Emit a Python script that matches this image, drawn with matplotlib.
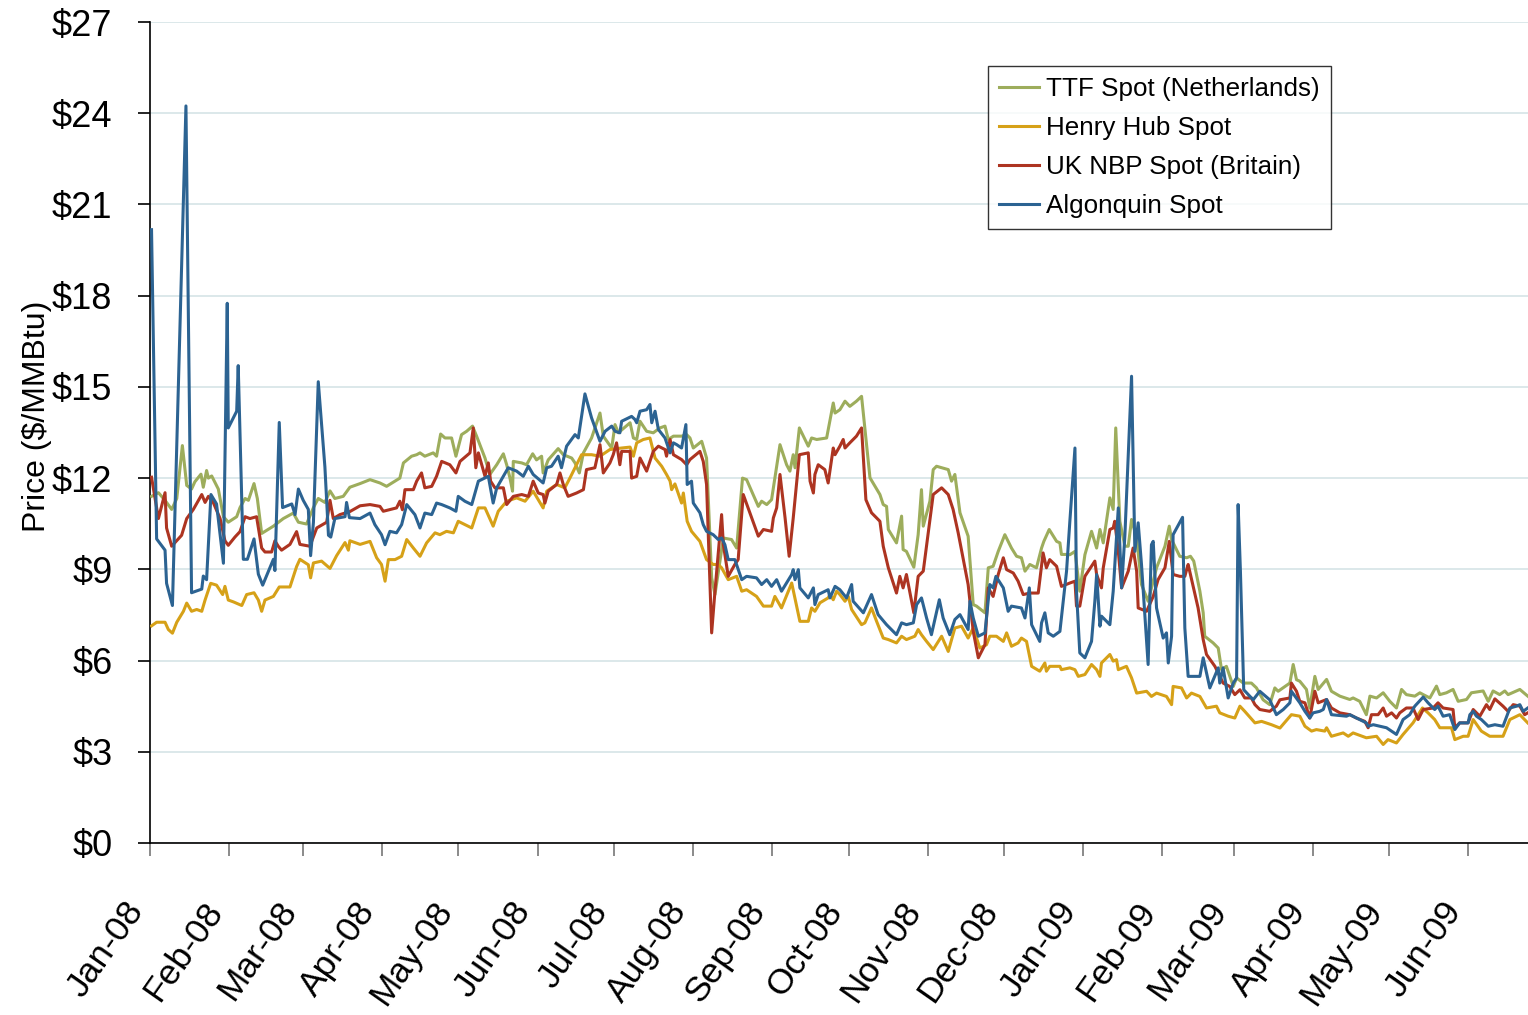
import numpy as np
import pandas as pd
import matplotlib
matplotlib.use('Agg')
import matplotlib.pyplot as plt
from matplotlib.ticker import FuncFormatter

plt.rcParams['font.family'] = ['Liberation Sans', 'DejaVu Sans']

# days counted from 1 Jan 2008, prices in $/MMBtu
ttf_days = [0.6, 3.3, 5.9, 8.5, 10.5, 12.7, 14.4, 16.3, 17.6, 20.0, 20.9, 22.2, 22.9, 24.2, 26.8, 28.8, 30.7, 34.0,
            35.3, 37.3, 38.6, 40.8, 42.1, 43.8, 48.4, 52.3, 56.2, 58.2, 61.4, 64.1, 66.0, 68.6, 70.6, 72.5, 75.8,
            78.4, 82.4, 86.3, 90.2, 92.8, 98.0, 99.4, 102.6, 104.6, 105.9, 107.8, 111.1, 112.4, 114.0, 115.7, 118.3,
            120.0, 122.2, 124.2, 126.5, 128.1, 131.4, 133.3, 136.0, 138.6, 139.9, 141.2, 142.2, 142.5, 145.8, 147.7,
            150.1, 151.6, 153.6, 154.2, 156.2, 160.1, 162.1, 165.4, 166.7, 168.4, 170.0, 173.2, 176.5, 177.8, 181.1,
            182.4, 183.7, 188.3, 189.6, 190.9, 192.2, 194.8, 197.4, 200.0, 202.0, 203.3, 205.3, 208.5, 210.5, 211.8,
            213.1, 215.7, 216.4, 218.3, 220.3, 221.6, 224.9, 228.1, 230.1, 232.4, 234.0, 238.6, 239.9, 241.9, 243.8,
            247.1, 249.7, 251.0, 252.3, 253.0, 254.7, 258.2, 259.5, 261.5, 265.4, 268.0, 268.7, 270.6, 272.6, 274.5,
            277.1, 279.1, 282.4, 286.3, 287.6, 288.9, 289.6, 292.8, 294.8, 295.4, 296.7, 299.6, 301.3, 302.6, 303.3,
            305.9, 307.2, 308.5, 313.1, 314.4, 315.7, 317.7, 320.9, 322.9, 324.2, 327.5, 328.8, 330.7, 332.7, 335.3,
            337.9, 339.9, 341.8, 343.2, 345.1, 347.7, 349.7, 350.6, 352.7, 355.6, 356.9, 357.5, 359.5, 360.8, 362.8,
            364.7, 366.7, 369.3, 371.3, 372.6, 373.9, 376.5, 377.8, 378.8, 380.4, 382.4, 383.7, 385.0, 387.0, 388.9,
            391.5, 394.8, 398.1, 399.8, 400.7, 403.9, 406.6, 408.1, 409.4, 411.8, 413.1, 413.7, 417.0, 419.0, 420.3,
            422.2, 424.9, 426.2, 428.8, 432.0, 434.0, 436.6, 439.2, 441.2, 442.5, 447.1, 448.4, 449.7, 451.0, 453.6,
            454.9, 456.9, 458.2, 461.5, 463.4, 466.7, 470.6, 471.9, 474.5, 477.1, 478.5, 481.1, 483.7, 486.3, 488.9,
            490.9, 492.8, 496.1, 498.1, 499.4, 502.0, 504.6, 505.9, 508.5, 511.1, 513.1, 516.4, 518.3, 522.9, 524.9,
            526.8, 529.4, 531.4, 532.7, 537.3, 540.4]
ttf_price = [11.4, 11.52, 11.27, 10.97, 11.33, 13.07, 11.76, 11.64, 11.88, 12.13, 11.7, 12.25, 12.0, 12.07, 11.64,
             10.73, 10.55, 10.73, 11.03, 11.33, 11.27, 11.82, 11.33, 10.18, 10.42, 10.67, 10.85, 10.55, 10.49, 11.03,
             11.33, 11.2, 11.58, 11.33, 11.4, 11.7, 11.82, 11.95, 11.84, 11.73, 12.0, 12.5, 12.72, 12.77, 12.83, 12.72,
             12.83, 12.72, 13.45, 13.32, 13.32, 12.72, 13.43, 13.54, 13.71, 13.38, 12.66, 12.12, 12.44, 12.8, 12.44,
             12.0, 11.57, 12.55, 12.5, 12.44, 12.8, 12.6, 12.72, 12.17, 12.6, 12.97, 12.77, 12.66, 12.5, 12.17, 12.83,
             13.32, 14.14, 13.38, 12.99, 13.76, 13.49, 13.82, 13.32, 13.27, 13.87, 13.54, 13.49, 13.65, 13.71, 13.27,
             13.38, 13.38, 13.43, 13.32, 12.99, 13.16, 13.21, 12.66, 8.72, 8.17, 10.03, 9.98, 9.7, 12.0, 11.95, 11.07,
             11.24, 11.13, 11.29, 13.1, 12.44, 12.23, 12.77, 12.34, 13.65, 13.05, 13.32, 13.27, 13.32, 14.47, 14.14,
             14.25, 14.53, 14.36, 14.53, 14.69, 12.01, 11.46, 11.13, 11.07, 10.31, 9.87, 10.75, 9.65, 9.59, 9.07,
             10.14, 11.62, 10.42, 11.24, 12.28, 12.39, 12.28, 11.9, 12.12, 10.86, 10.09, 7.84, 7.79, 7.57, 9.05, 9.1,
             9.59, 10.14, 9.7, 9.43, 9.38, 8.94, 9.16, 9.05, 9.7, 9.92, 10.31, 9.92, 9.87, 9.49, 9.49, 9.48, 9.59,
             8.28, 9.48, 10.25, 9.7, 10.31, 9.87, 11.35, 10.97, 13.65, 10.58, 9.76, 9.76, 10.64, 10.03, 8.5, 7.95,
             9.05, 9.76, 10.42, 9.98, 9.43, 9.38, 9.43, 9.27, 8.28, 7.57, 6.8, 6.58, 6.41, 5.7, 5.81, 5.15, 5.43, 5.26,
             5.26, 5.1, 4.71, 4.55, 5.1, 4.99, 5.26, 5.87, 5.37, 5.32, 5.05, 4.44, 5.48, 5.05, 5.38, 4.99, 4.83, 4.72,
             4.77, 4.66, 4.22, 4.83, 4.77, 4.94, 4.66, 4.44, 5.05, 4.88, 4.83, 4.94, 4.88, 4.77, 5.16, 4.88, 4.94,
             5.05, 4.66, 4.72, 4.94, 5.0, 4.66, 5.0, 4.88, 5.0, 4.88, 5.05, 4.83]

hh_days = [0.6, 2.6, 5.9, 7.2, 8.8, 10.5, 13.1, 14.4, 16.3, 18.3, 20.3, 21.6, 23.8, 26.1, 28.5, 29.4, 30.7, 32.7, 36.0,
           37.9, 40.8, 42.5, 43.8, 45.1, 48.4, 50.7, 54.9, 57.5, 58.8, 62.1, 63.0, 64.1, 67.3, 70.6, 73.2, 76.5, 77.8,
           78.4, 82.4, 86.3, 88.9, 90.8, 92.2, 93.5, 96.1, 98.7, 100.7, 103.3, 105.9, 108.5, 111.8, 113.7, 116.3,
           119.0, 120.9, 126.2, 128.8, 131.4, 134.6, 136.6, 139.9, 143.8, 147.1, 150.3, 154.2, 155.6, 159.5, 162.7,
           164.7, 167.3, 169.3, 173.2, 176.5, 180.4, 185.0, 188.3, 189.6, 190.9, 193.5, 196.1, 198.1, 200.7, 202.6,
           204.0, 204.6, 205.9, 208.5, 209.2, 210.7, 212.4, 215.7, 218.3, 220.9, 222.9, 224.2, 226.8, 230.1, 232.1,
           234.0, 237.9, 240.6, 243.8, 245.1, 247.7, 251.7, 254.9, 258.2, 259.5, 260.8, 262.8, 266.0, 266.7, 268.0,
           269.3, 270.6, 272.6, 273.9, 275.2, 279.1, 280.4, 283.0, 285.0, 287.6, 289.6, 292.8, 294.8, 296.7, 300.0,
           301.3, 302.6, 304.6, 307.2, 310.5, 313.1, 315.7, 318.3, 320.9, 322.9, 325.5, 328.1, 329.4, 332.0, 334.7,
           336.0, 337.9, 340.5, 341.8, 343.8, 345.8, 349.0, 351.0, 351.6, 352.9, 356.9, 357.5, 360.8, 362.8, 364.1,
           366.7, 369.3, 371.3, 372.6, 373.2, 376.5, 377.8, 379.1, 379.8, 383.0, 385.0, 387.0, 390.9, 392.8, 394.8,
           398.7, 400.7, 401.3, 404.6, 406.6, 408.5, 411.8, 414.4, 418.3, 419.6, 422.9, 425.5, 427.5, 429.4, 433.4,
           436.0, 439.9, 443.2, 447.7, 451.0, 453.0, 455.6, 457.5, 460.8, 461.5, 463.4, 468.0, 470.0, 471.9, 477.1,
           481.1, 483.7, 485.6, 488.9, 491.5, 495.4, 499.1, 501.3, 503.9, 505.9, 510.5, 511.8, 515.1, 517.0, 519.0,
           522.2, 525.5, 530.7, 533.4, 537.3, 540.4]
hh_price = [7.14, 7.26, 7.26, 7.02, 6.9, 7.26, 7.62, 7.89, 7.62, 7.68, 7.62, 7.99, 8.54, 8.48, 8.17, 8.44, 7.99, 7.93,
            7.81, 8.17, 8.23, 7.99, 7.62, 7.99, 8.11, 8.42, 8.42, 9.09, 9.33, 9.15, 8.72, 9.21, 9.27, 9.03, 9.45, 9.88,
            9.63, 9.94, 9.82, 9.92, 9.38, 9.16, 8.61, 9.32, 9.32, 9.43, 9.98, 9.7, 9.43, 9.87, 10.2, 10.14, 10.25,
            10.2, 10.58, 10.36, 11.02, 11.02, 10.42, 10.91, 11.24, 11.35, 11.24, 11.57, 11.02, 11.57, 11.79, 11.68,
            12.0, 12.44, 12.77, 12.77, 12.72, 12.94, 12.99, 13.02, 12.72, 13.16, 13.27, 13.32, 12.66, 12.39, 12.12,
            11.9, 11.62, 11.81, 11.18, 11.51, 10.58, 10.25, 9.92, 9.32, 9.16, 9.16, 9.05, 8.66, 8.77, 8.28, 8.33, 8.11,
            7.79, 7.79, 8.11, 7.73, 8.55, 7.29, 7.29, 7.73, 7.62, 7.9, 8.06, 8.17, 8.0, 8.28, 8.17, 7.95, 8.11, 7.68,
            7.18, 7.24, 7.73, 7.29, 6.74, 6.69, 6.58, 6.8, 6.69, 6.8, 7.02, 6.85, 6.63, 6.36, 6.8, 6.3, 7.07, 7.13,
            6.74, 7.07, 6.41, 6.52, 6.8, 6.8, 6.63, 6.91, 6.47, 6.58, 6.74, 6.63, 5.81, 5.65, 5.92, 5.65, 5.81, 5.81,
            5.7, 5.76, 5.7, 5.48, 5.54, 5.87, 5.7, 5.48, 5.92, 6.2, 5.98, 6.03, 5.7, 5.81, 5.43, 4.93, 4.99, 4.82,
            4.93, 4.82, 4.55, 5.15, 5.1, 4.77, 4.93, 4.82, 4.44, 4.5, 4.28, 4.17, 4.11, 4.5, 4.33, 3.95, 4.0, 3.89,
            3.78, 4.22, 4.17, 3.84, 3.68, 3.73, 3.68, 3.79, 3.51, 3.62, 3.51, 3.62, 3.46, 3.51, 3.24, 3.4, 3.29, 3.57,
            3.95, 4.44, 4.28, 4.06, 3.79, 3.79, 3.4, 3.51, 3.51, 4.06, 3.68, 3.51, 3.51, 4.06, 4.22, 3.95]

nbp_days = [0.6, 3.3, 5.9, 6.5, 8.5, 9.8, 12.4, 14.4, 17.0, 20.3, 21.6, 22.9, 24.8, 27.5, 29.4, 30.7, 33.3, 35.3, 37.3,
            39.2, 41.8, 43.8, 45.1, 47.7, 49.0, 50.3, 51.6, 54.9, 57.5, 58.8, 62.7, 65.4, 69.3, 70.6, 71.9, 74.5, 78.4,
            82.4, 86.3, 90.2, 91.5, 96.7, 98.0, 99.0, 100.0, 103.3, 104.6, 106.5, 107.8, 110.5, 112.4, 114.4, 117.6,
            120.0, 121.6, 125.5, 126.8, 127.8, 128.8, 131.4, 132.7, 133.6, 135.3, 138.6, 139.9, 142.5, 145.8, 148.4,
            150.3, 152.3, 154.2, 154.9, 156.2, 159.5, 160.8, 162.1, 164.0, 167.3, 170.0, 171.2, 174.5, 176.5, 177.8,
            180.4, 181.7, 183.0, 184.3, 185.0, 188.3, 188.9, 190.9, 192.2, 194.8, 197.4, 199.4, 202.0, 202.6, 204.0,
            205.3, 208.5, 210.5, 211.8, 215.7, 217.0, 218.3, 220.3, 221.6, 224.2, 224.9, 226.8, 229.4, 230.7, 232.7,
            236.0, 238.6, 240.6, 243.8, 244.5, 245.8, 247.1, 249.1, 250.7, 252.3, 254.7, 258.2, 258.9, 260.2, 260.8,
            262.1, 264.7, 266.0, 268.0, 268.7, 270.6, 271.9, 272.6, 274.5, 277.1, 279.1, 280.8, 283.0, 286.3, 287.6,
            289.6, 292.8, 294.1, 295.4, 296.7, 299.6, 301.3, 303.3, 307.2, 310.5, 313.1, 315.0, 317.0, 320.9, 322.9,
            324.9, 327.5, 328.8, 330.7, 332.7, 334.7, 336.0, 338.6, 340.5, 342.5, 345.1, 348.4, 350.3, 351.6, 352.9,
            355.6, 357.5, 360.8, 362.8, 363.4, 364.7, 366.7, 370.6, 371.3, 373.2, 373.9, 376.5, 377.8, 378.4, 379.8,
            381.1, 383.7, 385.6, 387.0, 387.6, 390.9, 393.5, 395.4, 398.1, 399.8, 401.3, 403.9, 405.9, 406.6, 407.2,
            411.1, 413.1, 414.4, 417.7, 420.9, 423.5, 425.5, 427.5, 429.4, 432.0, 433.4, 435.3, 439.2, 441.8, 443.2,
            447.1, 447.7, 449.7, 451.0, 453.0, 454.9, 456.9, 458.2, 461.5, 463.4, 466.7, 470.6, 473.2, 476.5, 477.8,
            479.1, 481.7, 483.7, 485.0, 487.0, 488.9, 490.2, 492.8, 495.4, 497.4, 499.4, 503.3, 505.2, 507.2, 511.1,
            511.8, 513.7, 517.0, 519.0, 521.6, 524.2, 525.5, 527.5, 530.7, 532.7, 534.7, 537.3, 539.2, 540.4]
nbp_price = [12.03, 10.67, 11.52, 10.36, 9.76, 9.88, 10.12, 10.67, 10.97, 11.46, 11.2, 11.4, 11.2, 10.67, 9.94, 9.79,
             10.06, 10.24, 10.73, 10.67, 10.73, 9.7, 9.57, 9.57, 9.94, 9.76, 9.63, 9.82, 10.24, 9.82, 9.76, 10.36,
             10.55, 11.27, 10.67, 10.8, 10.9, 11.09, 11.13, 11.07, 10.91, 11.02, 11.24, 10.96, 11.62, 11.62, 11.9,
             12.17, 11.68, 11.73, 12.06, 12.55, 12.44, 12.17, 12.55, 12.83, 13.65, 12.34, 12.83, 12.06, 12.5, 11.9,
             11.68, 11.68, 11.13, 11.4, 11.46, 11.4, 11.9, 11.51, 11.46, 11.18, 11.57, 11.79, 12.17, 11.79, 11.4,
             11.51, 11.62, 12.28, 12.34, 13.1, 12.17, 12.5, 12.77, 13.16, 12.44, 12.88, 12.88, 12.0, 12.06, 12.66,
             12.23, 12.88, 13.05, 12.94, 12.72, 13.27, 12.77, 12.61, 12.44, 12.61, 12.88, 12.55, 11.79, 6.91, 8.28,
             10.8, 9.81, 8.77, 9.16, 9.32, 11.46, 10.69, 10.09, 10.31, 10.25, 10.69, 11.02, 12.12, 10.69, 9.43, 10.69,
             12.77, 12.83, 11.9, 11.51, 12.12, 12.44, 12.28, 11.84, 12.99, 12.77, 13.05, 13.27, 12.99, 13.16, 13.38,
             13.65, 11.29, 10.86, 10.58, 9.76, 9.05, 8.22, 8.77, 8.39, 8.83, 7.57, 8.77, 8.94, 11.46, 11.68, 11.46,
             10.97, 10.2, 8.5, 6.96, 6.09, 6.52, 8.39, 8.11, 8.83, 9.38, 8.99, 8.88, 8.61, 8.17, 8.22, 8.22, 9.54,
             9.05, 9.32, 9.1, 8.44, 8.55, 8.61, 7.79, 7.79, 8.77, 9.27, 8.83, 8.39, 9.05, 10.31, 10.36, 10.58, 9.59,
             8.39, 8.94, 9.7, 8.94, 7.73, 7.62, 8.11, 8.66, 9.05, 9.92, 8.83, 8.77, 8.77, 8.99, 9.16, 7.73, 6.69, 6.2,
             5.81, 5.26, 5.15, 4.88, 5.04, 4.77, 4.77, 4.55, 4.39, 4.33, 4.5, 4.71, 4.77, 5.26, 4.99, 4.66, 4.61, 4.11,
             4.99, 4.61, 4.72, 4.44, 4.28, 4.22, 4.11, 4.0, 3.79, 4.22, 4.22, 4.44, 4.17, 4.28, 4.11, 4.28, 4.44, 4.44,
             4.06, 4.39, 4.44, 4.61, 4.44, 4.39, 3.79, 3.95, 3.95, 4.39, 4.17, 4.55, 4.39, 4.74, 4.5, 4.33, 4.55, 4.5,
             4.22, 4.28]

alg_days = [0.6, 2.6, 5.9, 6.5, 8.8, 14.1, 16.3, 20.3, 20.9, 22.2, 23.9, 26.1, 28.8, 30.3, 30.7, 34.0, 34.6, 36.6, 38.2,
            40.8, 42.5, 44.2, 48.4, 49.0, 50.7, 52.0, 55.6, 56.9, 58.2, 60.1, 62.1, 63.0, 64.1, 66.0, 68.6, 70.0, 70.9,
            72.5, 76.5, 77.1, 78.2, 82.4, 86.3, 88.2, 90.8, 92.2, 94.1, 96.7, 98.7, 100.7, 103.9, 105.9, 107.8, 110.5,
            112.4, 114.4, 117.6, 120.0, 120.9, 123.5, 126.2, 128.8, 132.7, 134.6, 136.0, 138.6, 140.5, 143.8, 146.4,
            148.4, 150.3, 154.2, 155.6, 157.5, 160.1, 161.4, 163.4, 166.7, 168.0, 170.6, 173.2, 176.5, 178.5, 181.1,
            182.4, 184.3, 185.0, 188.9, 190.2, 190.9, 192.2, 194.8, 196.1, 196.8, 198.1, 199.4, 202.0, 204.0, 205.3,
            206.6, 208.5, 210.2, 210.7, 212.4, 213.1, 215.7, 217.0, 218.3, 220.9, 222.9, 224.2, 225.5, 226.8, 229.4,
            232.1, 234.0, 237.9, 239.9, 241.9, 243.8, 245.8, 247.7, 251.7, 252.3, 253.0, 254.3, 254.9, 258.2, 260.2,
            260.8, 262.1, 266.0, 266.7, 268.7, 270.6, 273.2, 275.2, 275.8, 279.8, 283.0, 285.6, 288.9, 290.2, 292.8,
            294.8, 296.7, 299.4, 300.7, 302.6, 304.6, 306.5, 309.6, 311.1, 313.7, 315.7, 317.7, 320.9, 321.6, 322.9,
            324.9, 327.5, 329.4, 330.7, 331.8, 334.7, 336.6, 337.9, 341.8, 343.2, 344.9, 345.8, 349.0, 349.7, 351.0,
            352.3, 354.3, 356.9, 359.5, 360.8, 362.8, 363.4, 364.7, 366.7, 369.3, 370.6, 371.3, 372.6, 373.2, 376.5,
            377.8, 379.8, 381.1, 382.4, 385.0, 386.3, 387.6, 388.9, 391.5, 392.8, 393.5, 394.8, 397.4, 398.7, 399.4,
            400.7, 401.3, 405.0, 405.9, 407.2, 411.8, 413.1, 415.7, 419.0, 419.6, 420.9, 422.9, 424.9, 426.2, 426.8,
            427.7, 429.0, 432.7, 435.3, 439.2, 441.8, 444.5, 447.1, 447.7, 451.0, 453.0, 454.9, 456.2, 458.8, 460.2,
            461.5, 463.4, 469.3, 470.6, 474.5, 477.1, 477.8, 479.8, 482.4, 485.0, 488.9, 491.5, 494.1, 496.1, 499.4,
            501.3, 503.9, 505.2, 507.2, 509.8, 511.8, 513.7, 517.0, 517.7, 519.0, 520.3, 522.2, 524.9, 527.5, 530.7,
            533.4, 536.0, 537.3, 538.6, 540.4]
alg_price = [20.17, 10.0, 9.63, 8.54, 7.81, 24.24, 8.23, 8.35, 8.78, 8.66, 11.46, 11.15, 9.2, 17.75, 13.65, 14.2, 15.7,
             9.33, 9.33, 10.0, 8.84, 8.48, 9.33, 8.96, 13.83, 11.03, 11.15, 10.8, 11.64, 11.27, 10.97, 9.45, 10.55,
             15.17, 12.37, 10.12, 10.06, 10.67, 10.73, 11.2, 10.7, 10.67, 10.85, 10.47, 10.14, 9.81, 10.25, 10.2,
             10.47, 11.13, 10.8, 10.36, 10.85, 10.8, 11.18, 11.13, 11.02, 10.91, 11.4, 11.24, 11.13, 11.9, 12.06,
             11.18, 11.68, 12.06, 12.34, 12.23, 12.06, 12.39, 12.12, 11.84, 12.34, 12.39, 12.72, 12.34, 13.05, 13.43,
             13.32, 14.77, 13.98, 13.21, 13.54, 13.71, 13.54, 13.49, 13.87, 14.03, 13.93, 13.82, 14.2, 14.25, 14.42,
             13.82, 14.2, 13.6, 13.32, 12.83, 13.16, 13.1, 12.99, 13.76, 11.79, 11.9, 11.18, 10.86, 10.47, 10.25,
             10.14, 9.98, 10.03, 9.81, 9.32, 9.32, 8.66, 8.77, 8.72, 8.5, 8.66, 8.44, 8.66, 8.28, 8.83, 8.99, 8.66,
             8.99, 8.39, 8.06, 8.39, 7.84, 8.17, 8.33, 8.06, 8.44, 8.33, 8.06, 8.5, 7.95, 7.57, 8.17, 7.51, 7.18, 7.07,
             6.85, 7.24, 7.18, 7.24, 7.84, 8.06, 7.4, 6.85, 8.0, 7.4, 6.85, 7.35, 7.51, 7.02, 7.95, 7.4, 6.8, 6.91,
             8.5, 8.39, 8.77, 8.39, 7.62, 7.79, 7.73, 7.4, 8.39, 7.18, 6.63, 7.24, 7.57, 6.91, 6.8, 6.96, 8.94, 10.58,
             12.99, 8.28, 6.25, 6.09, 6.63, 7.95, 8.83, 7.13, 7.46, 7.18, 8.28, 11.02, 8.39, 10.14, 15.35, 9.59, 10.53,
             9.16, 5.87, 9.81, 9.92, 7.73, 6.74, 6.91, 5.92, 6.8, 10.14, 10.71, 7.07, 5.48, 5.48, 6.09, 5.1, 5.76, 5.26,
             5.76, 4.77, 5.26, 5.43, 11.13, 8.94, 5.04, 4.71, 4.99, 4.71, 4.22, 4.39, 4.61, 4.99, 4.61, 4.33, 4.11,
             4.28, 4.33, 4.39, 4.72, 4.22, 4.17, 4.22, 4.06, 3.95, 3.84, 3.89, 3.84, 3.79, 3.57, 4.06, 4.22, 4.5, 4.8,
             4.61, 4.39, 4.5, 4.17, 4.22, 3.73, 3.95, 3.95, 4.22, 4.33, 4.17, 4.06, 3.84, 3.89, 3.84, 4.44, 4.5, 4.55,
             4.33, 4.44]

names = ['TTF Spot (Netherlands)', 'Henry Hub Spot', 'UK NBP Spot (Britain)', 'Algonquin Spot']
colors = ['#9DAD5C', '#D6A118', '#AD3421', '#2C6392']

start = pd.Timestamp('2008-01-01')


def to_dates(days):
    return start + pd.to_timedelta(np.array(days), unit='D')


fig = plt.figure(figsize=(15.28, 10.15), dpi=100)
ax = fig.add_axes([150 / 1528, 1 - 843 / 1015, 1 - 150 / 1528, (843 - 22) / 1015])

series = [(ttf_days, ttf_price), (hh_days, hh_price), (nbp_days, nbp_price), (alg_days, alg_price)]
for i, (d, p) in enumerate(series):
    ax.plot(to_dates(d), p, color=colors[i], lw=2.2, label=names[i], zorder=3 + i)

ax.set_ylim(0, 27)
ax.set_yticks(range(0, 28, 3))
ax.yaxis.set_major_formatter(FuncFormatter(lambda v, _: '$%d' % v))
ax.set_xlim(start, start + pd.Timedelta(days=540.5))
months = pd.date_range('2008-01-01', '2009-06-01', freq='MS')
ax.set_xticks(months)
ax.set_xticklabels([m.strftime('%b-%y') for m in months], rotation=55, ha='right', va='top')

ax.grid(axis='y', color='#D5E4E6', lw=1.2)
ax.set_axisbelow(True)
for s in ['top', 'right']:
    ax.spines[s].set_visible(False)
ax.spines['left'].set_linewidth(1.2)
ax.spines['bottom'].set_linewidth(1.2)
ax.tick_params(axis='y', length=9, width=1.2, labelsize=26, pad=18)
ax.tick_params(axis='x', length=9, width=1.2, color='#777777', labelsize=25.5, pad=29)

ax.set_ylabel('Price ($/MMBtu)', fontsize=23)
ax.yaxis.set_label_coords(-0.071, 0.52)

leg = ax.legend(loc='upper left', bbox_to_anchor=(0.608, 0.946), borderaxespad=0, frameon=True,
                fancybox=False, fontsize=18.7, handlelength=1.55, handletextpad=0.27, borderpad=0.42,
                labelspacing=0.58)
leg.get_frame().set_edgecolor('black')
leg.get_frame().set_linewidth(1.0)

fig.savefig('out.png', dpi=100)
